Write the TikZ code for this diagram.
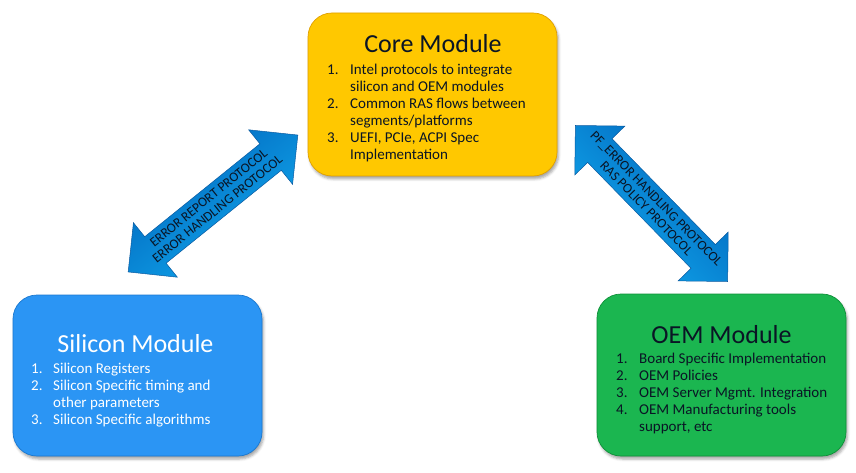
\documentclass[tikz,border=0pt]{standalone}
\usepackage{fontspec}
\setmainfont{Carlito}
\usetikzlibrary{shadows.blur}
\definecolor{coreY}{HTML}{FFC800}
\definecolor{coreD}{HTML}{E0A000}
\definecolor{siliB}{HTML}{2B95F4}
\definecolor{siliD}{HTML}{1A78D0}
\definecolor{oemG}{HTML}{1BB650}
\definecolor{oemD}{HTML}{0E9038}
\definecolor{ink}{HTML}{0A1525}
\definecolor{arrDark}{HTML}{0064BC}
\definecolor{arrLight}{HTML}{12AAEE}
\definecolor{arrEdge}{HTML}{0A5AA0}
\begin{document}
\begin{tikzpicture}[x=1pt,y=1pt,
  module/.style={rounded corners=24pt, line width=0.7pt, inner sep=0pt,
    blur shadow={shadow xshift=1.5pt, shadow yshift=-3pt, shadow blur radius=2.5pt, shadow opacity=35}},
  title/.style={inner sep=0pt, anchor=base, font=\fontsize{26}{30}\selectfont},
  listtext/.style={inner sep=0pt, anchor=base west, font=\fontsize{15}{17}\selectfont},
  arrtext/.style={inner sep=0pt, align=center, text=ink, font=\fontsize{13.5}{14}\selectfont},
  arrowfill/.style={draw=arrEdge, line width=0.5pt, top color=arrDark, bottom color=arrLight},
  pics/dblarr/.style={code={
    \path[arrowfill, shading angle=#1] (-109,0) -- (-74,35) -- (-74,17) -- (74,17) -- (74,35) -- (109,0)
      -- (74,-35) -- (74,-17) -- (-74,-17) -- (-74,-35) -- cycle;}}
]
\useasboundingbox (0,0) rectangle (856,472);

% modules
\node[module, fill=coreY, draw=coreD, minimum width=249pt, minimum height=163pt] (core) at (432.5,377.5) {};
\node[module, fill=siliB, draw=siliD, minimum width=249pt, minimum height=161pt] (silicon) at (137.5,96.5) {};
\node[module, fill=oemG, draw=oemD, minimum width=249pt, minimum height=162pt] (oem) at (721.5,97) {};

% titles
\node[title, text=ink] (coreT) at (433,419) {Core Module};
\node[title, text=white] (siliT) at (135.5,120) {Silicon Module};
\node[title, text=ink] (oemT) at (721.5,129) {OEM Module};

% lists
\node[listtext, text=ink] (coreL) at (327,397) {\begin{tabular}[t]{@{}p{23pt}@{}l@{}}
1. & Intel protocols to integrate\\
   & silicon and OEM modules\\
2. & Common RAS flows between\\
   & segments/platforms\\
3. & UEFI, PCIe, ACPI Spec\\
   & Implementation
\end{tabular}};
\node[listtext, text=white] (siliL) at (31,99) {\begin{tabular}[t]{@{}p{22pt}@{}l@{}}
1. & Silicon Registers\\
2. & Silicon Specific timing and\\
   & other parameters\\
3. & Silicon Specific algorithms
\end{tabular}};
\node[listtext, text=ink] (oemL) at (616,109) {\begin{tabular}[t]{@{}p{23pt}@{}l@{}}
1. & Board Specific Implementation\\
2. & OEM Policies\\
3. & OEM Server Mgmt. Integration\\
4. & OEM Manufacturing tools\\
   & support, etc
\end{tabular}};

% double arrows
\coordinate (la) at (213,268.5);
\coordinate (ra) at (651.5,268.5);
\pic[rotate=38.9] at (la) {dblarr=38.9};
\pic[rotate=-45.7] at (ra) {dblarr=-45.7};
\node[arrtext, rotate=38.9] (laT) at (la) {ERROR REPORT PROTOCOL\\ERROR HANDLING PROTOCOL};
\node[arrtext, rotate=-45.7] (raT) at (ra) {PF\_ERROR HANDLING PROTOCOL\\RAS POLICY PROTOCOL};
\end{tikzpicture}
\end{document}
